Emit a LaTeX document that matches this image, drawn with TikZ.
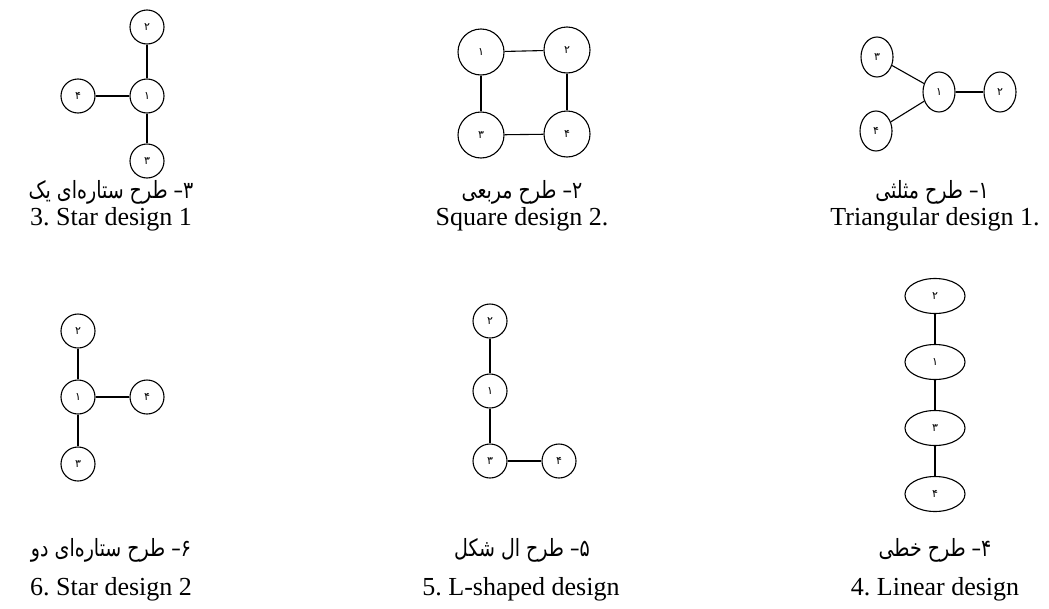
\documentclass[tikz,border=0pt]{standalone}
\usepackage{fontspec}
\usepackage{graphicx}
\setmainfont{Liberation Serif}
\newfontfamily\arabicfont[Script=Arabic]{DejaVu Sans}
\TeXXeTstate=1
\frenchspacing
\usetikzlibrary{shapes.geometric}
\newcommand{\falabel}[1]{\scalebox{1}[1.25]{\arabicfont\fontsize{19}{24}\selectfont\beginR #1\endR}}
\tikzset{
  nd/.style={draw, circle, line width=1.1pt, minimum size=34pt, inner sep=0pt,
    font=\arabicfont\fontsize{11}{11}\selectfont},
  ndsq/.style={nd, minimum size=46pt},
  ndtri/.style={draw, ellipse, line width=1.1pt, minimum width=32pt, minimum height=40pt,
    inner sep=0pt, font=\arabicfont\fontsize{11}{11}\selectfont},
  ndlin/.style={ndtri, minimum width=60pt, minimum height=35pt},
  link/.style={line width=1.1pt},
  fa/.style={inner sep=0pt},
  en/.style={font=\fontsize{26}{30}\selectfont, inner sep=0pt},
}
\begin{document}
\begin{tikzpicture}[x=1pt,y=-1pt]
\useasboundingbox (0,0) rectangle (1049,608);
% ---- Star design 1 (top left)
\node[nd] (a2) at (147,27) {۲};
\node[nd] (a1) at (147,96) {۱};
\node[nd] (a4) at (78,96) {۴};
\node[nd] (a3) at (147,161) {۳};
\draw[link] (a2) -- (a1);
\draw[link] (a1) -- (a3);
\draw[link] (a4) -- (a1);
\node[fa] (afa) at (111,192) {\falabel{۳– طرح ستاره‌ای یک}};
\node[en] (aen) at (111,219) {3. Star design 1};
% ---- Square design (top middle)
\node[ndsq] (b1) at (481,52) {۱};
\node[ndsq] (b2) at (567,50) {۲};
\node[ndsq] (b3) at (481,135) {۳};
\node[ndsq] (b4) at (567,134) {۴};
\draw[link] (b1) -- (b2);
\draw[link] (b1) -- (b3);
\draw[link] (b2) -- (b4);
\draw[link] (b3) -- (b4);
\node[fa] (bfa) at (522,192) {\falabel{۲– طرح مربعی}};
\node[en] (ben) at (522,219) {Square design 2.};
% ---- Triangular design (top right)
\node[ndtri] (c3) at (877,57) {۳};
\node[ndtri] (c1) at (939,92) {۱};
\node[ndtri] (c2) at (1000,92) {۲};
\node[ndtri] (c4) at (876,131) {۴};
\draw[link] (c3) -- (c1);
\draw[link] (c4) -- (c1);
\draw[link] (c1) -- (c2);
\node[fa] (cfa) at (932,192) {\falabel{۱– طرح مثلثی}};
\node[en] (cen) at (935,219) {Triangular design 1.};
% ---- Star design 2 (bottom left)
\node[nd] (d2) at (78,331) {۲};
\node[nd] (d1) at (78,397) {۱};
\node[nd] (d4) at (147,397) {۴};
\node[nd] (d3) at (78,464) {۳};
\draw[link] (d2) -- (d1);
\draw[link] (d1) -- (d3);
\draw[link] (d1) -- (d4);
\node[fa] (dfa) at (111,550) {\falabel{۶– طرح ستاره‌ای دو}};
\node[en] (den) at (111,589) {6. Star design 2};
% ---- L-shaped design (bottom middle)
\node[nd] (e2) at (490,321) {۲};
\node[nd] (e1) at (490,391) {۱};
\node[nd] (e3) at (490,461) {۳};
\node[nd] (e4) at (559,461) {۴};
\draw[link] (e2) -- (e1);
\draw[link] (e1) -- (e3);
\draw[link] (e3) -- (e4);
\node[fa] (efa) at (522,550) {\falabel{۵– طرح ال شکل}};
\node[en] (een) at (521,589) {5. L-shaped design};
% ---- Linear design (bottom right)
\node[ndlin] (f2) at (935,296) {۲};
\node[ndlin] (f1) at (935,362) {۱};
\node[ndlin] (f3) at (935,428) {۳};
\node[ndlin] (f4) at (935,494) {۴};
\draw[link] (f2) -- (f1);
\draw[link] (f1) -- (f3);
\draw[link] (f3) -- (f4);
\node[fa] (ffa) at (935,550) {\falabel{۴– طرح خطی}};
\node[en] (fen) at (935,589) {4. Linear design};
\end{tikzpicture}
\end{document}
